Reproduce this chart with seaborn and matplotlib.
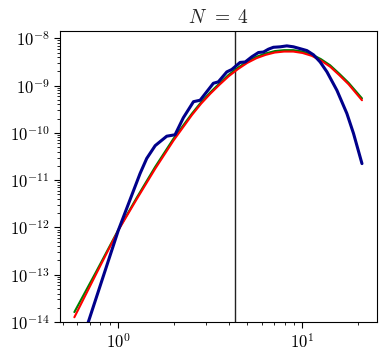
import numpy as np
import pandas as pd
import matplotlib
matplotlib.use("Agg")
import matplotlib.pyplot as plt
import seaborn as sns

# ---- data ----
curve_x = [0.577, 0.759, 1.0, 1.259, 1.585, 1.995, 2.512, 2.818, 3.162,
           3.548, 3.981, 4.467, 5.012, 5.623, 6.310, 7.079, 7.943, 8.913,
           10.0, 11.22, 12.59, 14.13, 15.85, 17.78, 21.04]
green_y = [1.62e-14, 1.17e-13, 8.91e-13, 4.27e-12, 1.91e-11, 7.59e-11,
           2.57e-10, 4.47e-10, 7.24e-10, 1.12e-9, 1.70e-9, 2.40e-9,
           3.24e-9, 4.07e-9, 4.79e-9, 5.37e-9, 5.62e-9, 5.62e-9,
           5.25e-9, 4.57e-9, 3.63e-9, 2.69e-9, 1.78e-9, 1.15e-9, 5.37e-10]
red_y = [1.26e-14, 1.05e-13, 8.71e-13, 3.98e-12, 1.74e-11, 6.92e-11,
         2.40e-10, 4.17e-10, 6.76e-10, 1.05e-9, 1.585e-9, 2.24e-9,
         3.02e-9, 3.80e-9, 4.47e-9, 5.01e-9, 5.25e-9, 5.25e-9,
         4.90e-9, 4.27e-9, 3.39e-9, 2.51e-9, 1.66e-9, 1.07e-9, 4.90e-10]

blue_x = [0.577, 0.687, 1.0, 1.312, 1.426, 1.585, 1.832, 2.032, 2.254,
          2.559, 2.780, 3.281, 3.491, 3.882, 4.130, 4.581, 4.887, 5.309,
          5.768, 6.138, 6.531, 6.950, 7.568, 8.222, 8.933, 9.727, 10.57,
          11.48, 12.47, 13.58, 15.38, 17.42, 18.92, 21.04]
blue_y = [1.26e-15, 1.0e-14, 8.71e-13, 1.38e-11, 2.88e-11, 5.37e-11,
          8.51e-11, 9.12e-11, 2.09e-10, 4.57e-10, 4.90e-10, 1.12e-9,
          1.20e-9, 1.95e-9, 2.19e-9, 3.09e-9, 3.16e-9, 4.07e-9, 5.01e-9,
          5.13e-9, 5.89e-9, 6.46e-9, 6.61e-9, 6.92e-9, 6.61e-9, 6.03e-9,
          5.50e-9, 4.47e-9, 3.16e-9, 1.95e-9, 7.94e-10, 2.57e-10,
          9.77e-11, 2.24e-11]

vline_x = 4.31
title = r"$N\;\,=\;4$"

# ---- style ----
sns.set_style("ticks", {"axes.edgecolor": "black", "xtick.color": "black",
                        "ytick.color": "black", "axes.linewidth": 1.0})
plt.rcParams["mathtext.fontset"] = "cm"
plt.rcParams["font.family"] = ["serif"]
plt.rcParams["font.serif"] = ["cmr10", "DejaVu Serif"]
plt.rcParams["axes.formatter.use_mathtext"] = True

fig = plt.figure(figsize=(3.82, 3.56), dpi=100)
ax = fig.add_axes([0.157, 0.0955, 0.83, 0.8175])

df_g = pd.DataFrame({"x": curve_x, "y": green_y})
df_r = pd.DataFrame({"x": curve_x, "y": red_y})
df_b = pd.DataFrame({"x": blue_x, "y": blue_y})

sns.lineplot(data=df_g, x="x", y="y", ax=ax, color="green", lw=1.5,
             sort=False, zorder=2)
sns.lineplot(data=df_r, x="x", y="y", ax=ax, color="red", lw=1.5,
             sort=False, zorder=3)
sns.lineplot(data=df_b, x="x", y="y", ax=ax, color="darkblue", lw=2.2,
             sort=False, zorder=4)
ax.set_xscale("log")
ax.set_yscale("log")
ax.axvline(vline_x, color="#222222", lw=1.0, zorder=1)

ax.set_xlim(0.482, 25.4)
ax.set_ylim(1e-14, 1.43e-8)
ax.set_xlabel("")
ax.set_ylabel("")
ax.set_title(title, fontsize=14)
ax.tick_params(labelsize=12, direction="out")
ax.tick_params(which="major", length=4)
ax.tick_params(which="minor", length=2)

fig.savefig("out.png", dpi=100)
